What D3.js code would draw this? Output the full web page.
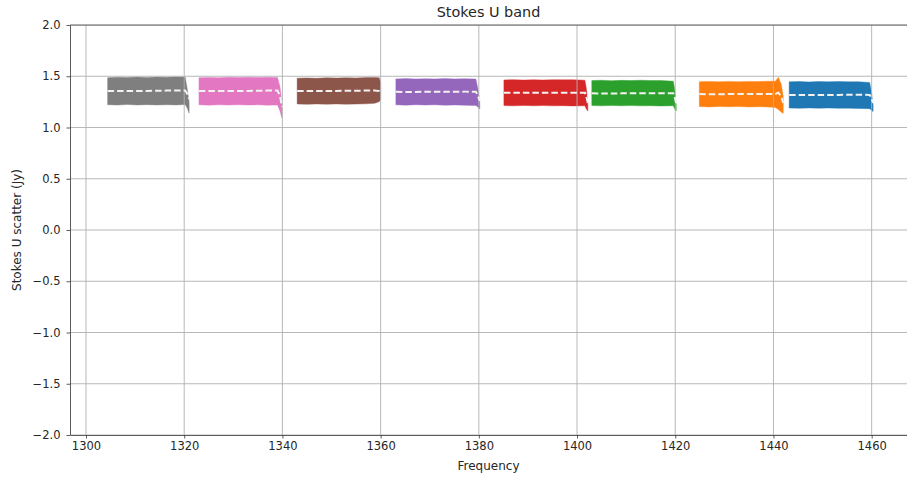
<!DOCTYPE html>
<html>
<head>
<meta charset="utf-8">
<script src="https://cdn.jsdelivr.net/npm/d3@7"></script>
<style>
  body { margin: 0; background: #fff; }
  svg { font-family: "DejaVu Sans", sans-serif; }
</style>
</head>
<body>
<svg id="mainsvg" width="907" height="479"></svg>
<script>
// tick labels
var xTicks = [1300, 1320, 1340, 1360, 1380, 1400, 1420, 1440, 1460];
var yTicks = [-2, -1.5, -1, -0.5, 0, 0.5, 1, 1.5, 2];

// sub-band colours (matplotlib tab10, highest band first)
var bandColors = ["#7f7f7f", "#e377c2", "#8c564b", "#9467bd", "#d62728", "#2ca02c", "#ff7f0e", "#1f77b4"];

// frequency samples per sub-band (MHz)
var bandFreqs = [
    [1304.4, 1306.4, 1308.4, 1310.4, 1312.4, 1314.4, 1316.4, 1318.4, 1320.2, 1320.6, 1321.0],
    [1323.0, 1325.0, 1327.0, 1329.0, 1331.0, 1333.0, 1335.0, 1337.0, 1339.0, 1339.5, 1339.9],
    [1343.0, 1345.0, 1347.0, 1349.0, 1351.0, 1353.0, 1355.0, 1357.0, 1358.8, 1359.7, 1360.0],
    [1363.1, 1365.1, 1367.1, 1369.1, 1371.1, 1373.1, 1375.1, 1377.1, 1379.4, 1379.8, 1380.2],
    [1385.1, 1387.1, 1389.1, 1391.1, 1393.1, 1395.1, 1397.1, 1399.1, 1401.6, 1401.9, 1402.2],
    [1403.0, 1405.0, 1407.0, 1409.0, 1411.0, 1413.0, 1415.0, 1417.0, 1419.6, 1419.9, 1420.2],
    [1424.9, 1426.9, 1428.9, 1430.9, 1432.9, 1434.9, 1436.9, 1438.9, 1440.4, 1441.0, 1441.6, 1442.0],
    [1443.2, 1445.2, 1447.2, 1449.2, 1451.2, 1453.2, 1455.2, 1457.2, 1459.6, 1459.9, 1460.3]
];

// mean + scatter (Jy)
var bandUpper = [
    [1.486, 1.490, 1.488, 1.492, 1.489, 1.493, 1.490, 1.494, 1.492, 1.38, 1.25],
    [1.486, 1.489, 1.486, 1.490, 1.487, 1.491, 1.488, 1.490, 1.488, 1.40, 1.24],
    [1.481, 1.484, 1.480, 1.485, 1.482, 1.486, 1.483, 1.487, 1.488, 1.486, 1.44],
    [1.474, 1.477, 1.473, 1.476, 1.474, 1.477, 1.474, 1.476, 1.472, 1.38, 1.24],
    [1.464, 1.467, 1.463, 1.466, 1.464, 1.467, 1.465, 1.466, 1.462, 1.38, 1.22],
    [1.458, 1.461, 1.457, 1.460, 1.458, 1.461, 1.458, 1.459, 1.452, 1.37, 1.22],
    [1.447, 1.450, 1.446, 1.450, 1.447, 1.450, 1.448, 1.452, 1.452, 1.490, 1.42, 1.30],
    [1.446, 1.449, 1.445, 1.449, 1.446, 1.449, 1.446, 1.447, 1.440, 1.36, 1.22]
];
var bandLower = [
    [1.222, 1.219, 1.224, 1.220, 1.223, 1.220, 1.222, 1.220, 1.224, 1.19, 1.14],
    [1.221, 1.218, 1.222, 1.219, 1.222, 1.219, 1.221, 1.218, 1.220, 1.16, 1.09],
    [1.229, 1.226, 1.230, 1.227, 1.230, 1.227, 1.229, 1.231, 1.236, 1.252, 1.27],
    [1.221, 1.218, 1.222, 1.219, 1.221, 1.218, 1.220, 1.217, 1.214, 1.20, 1.18],
    [1.214, 1.211, 1.215, 1.212, 1.214, 1.211, 1.213, 1.210, 1.212, 1.18, 1.16],
    [1.214, 1.211, 1.215, 1.212, 1.214, 1.211, 1.213, 1.210, 1.212, 1.18, 1.16],
    [1.204, 1.201, 1.205, 1.202, 1.204, 1.201, 1.203, 1.200, 1.196, 1.175, 1.15, 1.14],
    [1.190, 1.187, 1.191, 1.188, 1.190, 1.187, 1.189, 1.186, 1.184, 1.17, 1.155]
];
var bandMean = [
    [1.356, 1.355, 1.356, 1.357, 1.357, 1.358, 1.360, 1.361, 1.362, 1.33, 1.28],
    [1.356, 1.355, 1.356, 1.356, 1.357, 1.357, 1.358, 1.360, 1.360, 1.31, 1.20],
    [1.357, 1.356, 1.356, 1.357, 1.357, 1.358, 1.359, 1.360, 1.362, 1.355, 1.33],
    [1.348, 1.347, 1.347, 1.348, 1.348, 1.349, 1.349, 1.350, 1.350, 1.31, 1.26],
    [1.339, 1.338, 1.338, 1.339, 1.339, 1.339, 1.340, 1.340, 1.340, 1.30, 1.24],
    [1.333, 1.332, 1.332, 1.333, 1.333, 1.333, 1.334, 1.334, 1.333, 1.29, 1.24],
    [1.326, 1.325, 1.325, 1.326, 1.326, 1.326, 1.327, 1.328, 1.328, 1.34, 1.30, 1.24],
    [1.318, 1.317, 1.317, 1.318, 1.318, 1.318, 1.319, 1.319, 1.318, 1.29, 1.24]
];

(function(){
    var svg = d3.select("#mainsvg");
    var mLeft = 70, mRight = 908, mTop = 25, mBottom = 435;

    var x = d3.scaleLinear().domain([1296.74, 1467.4]).range([mLeft, mRight]);
    var y = d3.scaleLinear().domain([-2, 2]).range([mBottom, mTop]);

    svg.append("clipPath").attr("id", "plotclip")
        .append("rect")
        .attr("x", mLeft).attr("y", mTop)
        .attr("width", mRight - mLeft).attr("height", mBottom - mTop);

    var plot = svg.append("g").attr("clip-path", "url(#plotclip)");

    // scatter bands
    var area = d3.area()
        .x(function(d){ return x(d.f); })
        .y0(function(d){ return y(d.lo); })
        .y1(function(d){ return y(d.hi); });

    var meanLine = d3.line()
        .x(function(d){ return x(d.f); })
        .y(function(d){ return y(d.m); });

    var bands = bandFreqs.map(function(fs, i){
        return fs.map(function(f, j){
            return {f: f, hi: bandUpper[i][j], lo: bandLower[i][j], m: bandMean[i][j]};
        });
    });

    plot.append("g").attr("class", "bands")
        .selectAll("path")
        .data(bands)
        .enter().append("path")
        .attr("d", area)
        .style("fill", function(d, i){ return bandColors[i]; })
        .style("stroke", function(d, i){ return bandColors[i]; })
        .style("stroke-width", 0.8)
        .style("stroke-opacity", 0.5);

    // grid sits above the fills, below the mean lines
    var grid = plot.append("g").attr("class", "grid");
    grid.selectAll("line.gx")
        .data(xTicks)
        .enter().append("line")
        .attr("class", "gx")
        .attr("x1", function(d){ return x(d); })
        .attr("x2", function(d){ return x(d); })
        .attr("y1", mTop).attr("y2", mBottom);
    grid.selectAll("line.gy")
        .data(yTicks)
        .enter().append("line")
        .attr("class", "gy")
        .attr("x1", mLeft).attr("x2", mRight)
        .attr("y1", function(d){ return y(d); })
        .attr("y2", function(d){ return y(d); });
    grid.selectAll("line")
        .style("stroke", "#b0b0b0")
        .style("stroke-width", 1)
        .style("stroke-opacity", 0.9);

    plot.append("g").attr("class", "means")
        .selectAll("path")
        .data(bands)
        .enter().append("path")
        .attr("d", meanLine)
        .style("fill", "none")
        .style("stroke", "#f2f2f2")
        .style("stroke-width", 2)
        .style("stroke-dasharray", "6.5,3");

    // axes
    svg.append("g")
        .attr("class", "xaxis")
        .attr("transform", "translate(0," + mBottom + ")")
        .call(d3.axisBottom(x).tickValues(xTicks).tickSize(3.5).tickSizeOuter(0).tickPadding(3.5)
            .tickFormat(d3.format("d")));

    svg.append("g")
        .attr("class", "yaxis")
        .attr("transform", "translate(" + mLeft + ",0)")
        .call(d3.axisLeft(y).tickValues(yTicks).tickSize(3.5).tickSizeOuter(0).tickPadding(6)
            .tickFormat(d3.format(".1f")));

    svg.selectAll(".xaxis, .yaxis")
        .attr("font-family", "DejaVu Sans, sans-serif")
        .attr("font-size", 11.5);
    svg.selectAll(".tick text")
        .style("fill", "#262626");
    svg.selectAll(".domain, .tick line")
        .style("stroke", "#333")
        .style("stroke-width", 0.8);

    // top spine
    svg.append("line")
        .attr("x1", mLeft).attr("x2", mRight)
        .attr("y1", mTop).attr("y2", mTop)
        .style("stroke", "#333")
        .style("stroke-width", 0.8);

    svg.append("text")
        .attr("x", (mLeft + 907) / 2)
        .attr("y", 17)
        .attr("text-anchor", "middle")
        .style("font-size", "14.4px")
        .style("fill", "#262626")
        .text("Stokes U band");

    svg.append("text")
        .attr("x", (mLeft + 907) / 2)
        .attr("y", 470)
        .attr("text-anchor", "middle")
        .style("font-size", "12px")
        .style("fill", "#262626")
        .text("Frequency");

    svg.append("text")
        .attr("transform", "translate(21," + ((mTop + mBottom) / 2) + ") rotate(-90)")
        .attr("text-anchor", "middle")
        .style("font-size", "12px")
        .style("fill", "#262626")
        .text("Stokes U scatter (Jy)");
})();
</script>
</body>
</html>
